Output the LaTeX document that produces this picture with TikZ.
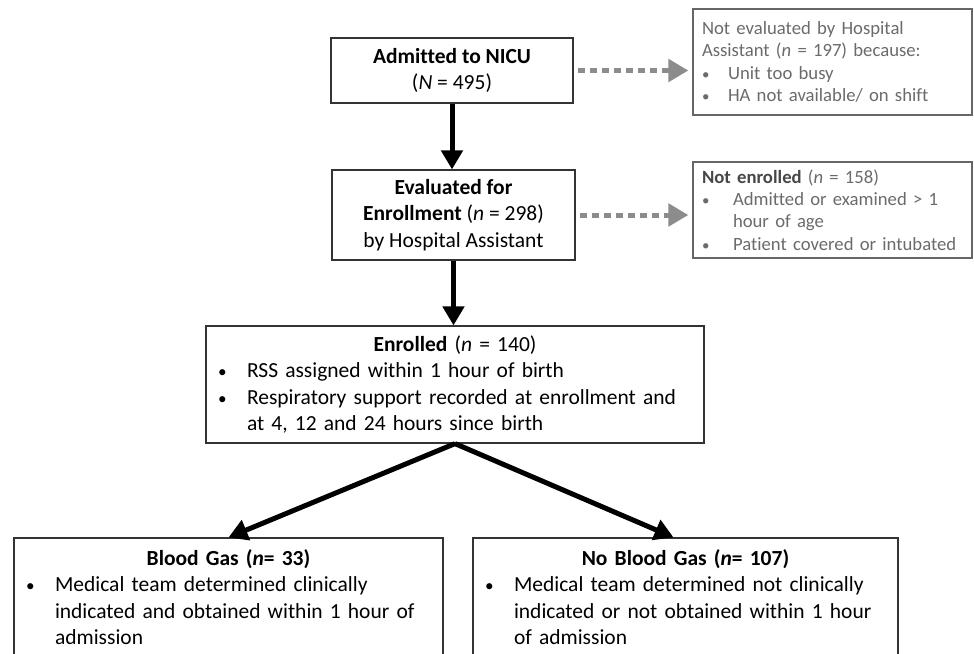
\documentclass[tikz,border=0pt]{standalone}
\usepackage{fontspec}
\setmainfont{Carlito}[Ligatures=NoCommon]
\usetikzlibrary{arrows.meta,calc}
\newcommand{\bitem}[2]{\par\hangindent=#1\hangafter=1\noindent\makebox[#1][l]{\scalebox{0.8}{\textbullet}}#2\par}
\tikzset{
  mainbox/.style={draw=black!80, line width=1.2pt, inner sep=0pt, font=\fontsize{21.5}{26.6}\selectfont},
  sidebox/.style={draw=black!60, line width=1.2pt, inner sep=0pt, text=black!58, font=\fontsize{18.7}{22.4}\selectfont},
  flow/.style={line width=5pt, -{Triangle[width=21pt,length=19pt]}},
  skipar/.style={draw=black!45, line width=5pt, dash pattern=on 7pt off 5pt, -{Triangle[width=22pt,length=20pt]}, shorten <=4pt, shorten >=4pt}
}
\begin{document}
\begin{tikzpicture}[x=1pt,y=-1pt]
\fill[white] (0,0) rectangle (974,653);
\useasboundingbox (0,0) rectangle (974,653);

\node[mainbox, minimum width=242pt, minimum height=65pt, align=center] (adm) at (452,70.5)
  {\textbf{Admitted to NICU}\\(\textit{N} = 495)};
\node[mainbox, minimum width=243pt, minimum height=90pt, align=center] (eva) at (453.5,215)
  {\textbf{Evaluated for}\\\textbf{Enrollment} (\textit{n} = 298)\\by Hospital Assistant};
\node[mainbox, minimum width=498pt, minimum height=117pt, text width=474pt, align=left] (enr) at (455,384.5)
  {\centerline{\textbf{Enrolled} (\textit{n} = 140)}\bitem{29pt}{RSS assigned within 1 hour of birth}\bitem{29pt}{Respiratory support recorded at enrollment and\newline at 4, 12 and 24 hours since birth}};
\node[mainbox, minimum width=429pt, minimum height=118pt, text width=405pt, align=left] (bg) at (228.5,597)
  {\centerline{\textbf{Blood Gas (\textit{n}= 33)}}\bitem{29pt}{Medical team determined clinically\newline indicated and obtained within 1 hour of\newline admission}};
\node[mainbox, minimum width=425pt, minimum height=118pt, text width=401pt, align=left] (nbg) at (685.5,597)
  {\centerline{\textbf{No Blood Gas (\textit{n}= 107)}}\bitem{29pt}{Medical team determined not clinically\newline indicated or not obtained within 1 hour\newline of admission}};

\node[sidebox, minimum width=279pt, minimum height=106pt, text width=261pt, align=left] (nea) at (832.5,62)
  {\noindent Not evaluated by Hospital\newline Assistant (\textit{n} = 197) because:\bitem{26pt}{Unit too busy}\bitem{26pt}{HA not available/ on shift}};
\node[sidebox, minimum width=279pt, minimum height=96pt, text width=261pt, align=left] (nen) at (832.5,210)
  {\noindent{\color{black!72}\textbf{Not enrolled}} (\textit{n} = 158)\bitem{31pt}{Admitted or examined > 1\newline hour of age}\bitem{31pt}{Patient covered or intubated}};

\draw[flow] (adm.south) -- (adm.south |- eva.north);
\draw[flow] (eva.south) -- (eva.south |- enr.north);
\draw[flow] (enr.south) -- (bg.north);
\draw[flow] (enr.south) -- ($(nbg.north)+(-12,0)$);
\draw[skipar] (adm.east) -- (adm.east -| nea.west);
\draw[skipar] (eva.east) -- (eva.east -| nen.west);
\end{tikzpicture}
\end{document}
